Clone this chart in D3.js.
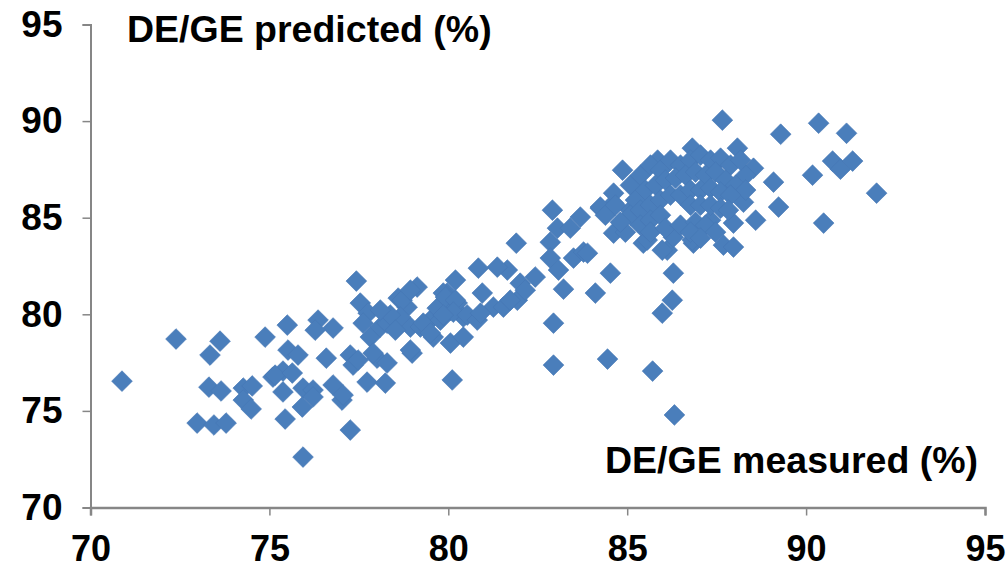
<!DOCTYPE html>
<html>
  <head>
    <meta charset="utf-8">
    <title>DE/GE predicted vs measured</title>
    <script src="https://d3js.org/d3.v7.min.js"></script>
    <style>
      body { margin: 0; background: #fff; }
      text { font-family: "Liberation Sans", Arial, sans-serif; font-weight: bold; fill: #000; }
    </style>
  </head>
  <body>
    <script>

      // measured DE/GE (%) and predicted DE/GE (%)
      var measured = [
        70.88,72.39,73.62,73.34,73.31,73.65,72.98,73.45,73.79,74.27,74.52,74.27,74.49,74.88,75.10,75.38,75.50,75.52,75.38,75.44,
        76.36,76.78,76.28,75.80,76.59,77.26,77.34,77.48,78.01,78.29,78.99,80.11,75.16,75.64,75.94,76.22,76.22,75.92,76.78,77.03,
        77.06,77.73,78.24,77.26,75.94,
        77.43,77.54,77.76,77.62,77.82,78.10,78.29,78.60,79.13,78.85,78.94,79.22,79.50,79.97,80.20,80.25,80.06,79.69,79.58,80.06,
        80.42,78.71,78.94,79.86,78.66,79.30,79.50,80.42,78.94,77.90,78.38,78.52,78.10,79.78,
        82.91,83.69,84.25,84.62,85.09,84.62,84.95,83.05,83.41,82.85,81.90,82.85,83.08,83.50,83.78,84.53,83.22,84.11,82.43,82.01,
        81.93,81.65,81.37,80.84,80.95,81.26,81.54,81.73,79.92,80.20,80.14,80.53,80.81,80.90,79.86,82.94,82.94,84.45,82.15,
        83.89,86.29,86.26,85.98,85.71,86.32,86.85,87.69,85.45,86.12,
        87.66,89.29,86.82,88.08,84.87,85.85,88.53,89.09,89.23,88.25,88.59,87.97,87.97,86.82,86.29,85.98,85.56,84.25,84.62,88.31,87.33,
        90.35,91.13,90.74,90.96,91.30,90.18,91.97,90.49,
        85.09,85.37,85.65,85.93,86.21,86.49,86.77,87.05,87.33,87.61,87.89,88.17,
        85.23,85.51,85.79,86.07,86.35,86.63,86.91,87.19,87.47,87.75,88.03,88.31,
        85.09,85.37,85.65,85.93,86.21,86.49,86.77,87.05,87.33,87.61,87.89,
        85.37,85.65,85.93,86.77,87.05,87.33,87.61,87.83,
        85.65,86.07,86.49,86.91,87.19,86.77,87.05,87.47,
        84.39,84.67,84.81
      ];

      var predicted = [
        76.54,78.72,78.61,77.89,76.23,76.03,74.37,74.27,74.37,76.18,76.29,75.56,75.10,78.82,76.75,77.06,79.44,78.15,75.98,74.58,
        79.70,79.29,79.18,77.89,77.73,77.89,77.37,77.63,77.73,77.48,77.99,76.60,76.85,76.96,76.18,76.08,75.72,75.20,76.34,75.56,
        75.82,76.49,76.44,74.01,72.61,
        81.72,80.58,80.06,79.54,78.82,79.34,79.54,80.84,81.41,80.37,79.34,79.34,79.70,81.10,81.77,80.58,80.22,80.32,78.82,78.51,
        78.82,80.73,81.25,81.10,79.86,79.54,79.03,79.86,78.15,77.99,79.96,79.18,80.22,79.70,
        85.39,85.03,85.49,85.75,85.39,84.20,84.25,84.46,84.46,83.73,83.68,82.91,82.29,82.91,83.22,82.13,81.30,81.10,81.93,81.61,
        80.73,82.29,82.44,82.39,81.10,80.37,80.37,80.73,80.89,80.73,80.11,79.96,79.70,80.06,79.96,79.54,77.37,77.68,81.25,
        83.16,82.13,80.73,80.06,77.06,74.79,83.68,83.58,83.68,83.32,
        90.05,89.32,88.60,88.60,87.46,87.98,87.56,86.84,85.55,85.80,84.87,84.72,83.48,83.84,83.99,83.32,83.84,85.55,86.27,87.20,84.87,
        89.89,89.37,87.93,87.51,87.93,87.20,86.27,84.72,
        86.68,87.20,87.72,87.46,87.98,87.72,87.98,88.24,87.98,88.08,87.72,87.98,
        85.91,86.43,86.68,86.94,87.05,87.20,87.36,87.20,87.36,86.94,86.68,86.43,
        85.13,85.39,85.65,85.91,86.17,86.17,86.43,86.43,86.53,86.32,86.17,
        84.61,84.87,85.13,85.65,85.65,85.65,85.49,85.39,
        84.25,84.46,84.61,84.77,84.61,84.25,83.94,84.25,
        85.13,85.65,84.77
      ];

      var tickValues = [70, 75, 80, 85, 90, 95];

      var points = measured.map(function(d, i) { return { x: d, y: predicted[i] }; });

      var svg = d3.select("body")
                  .append("svg")
                  .attr("width", 1006)
                  .attr("height", 572);

      var x = d3.scaleLinear().domain([70, 95]).range([90.5, 985]);
      var y = d3.scaleLinear().domain([70, 95]).range([507.5, 24.5]);

      // x axis
      var xAxis = svg.append("g")
                     .attr("transform", "translate(0," + y(70) + ")")
                     .call(d3.axisBottom(x).tickValues(tickValues).tickSize(8).tickPadding(20));
      xAxis.select(".domain").attr("stroke", "#868686").attr("stroke-width", 2.5);
      xAxis.selectAll(".tick line").attr("stroke", "#868686").attr("stroke-width", 1.5);
      xAxis.selectAll(".tick text")
           .attr("font-size", 36)
           .attr("font-family", "'Liberation Sans', Arial, sans-serif")
           .attr("font-weight", "bold")
           .attr("fill", "#000");

      // y axis
      var yAxis = svg.append("g")
                     .attr("transform", "translate(" + x(70) + ",0)")
                     .call(d3.axisLeft(y).tickValues(tickValues).tickSize(8).tickPadding(20));
      yAxis.select(".domain").attr("stroke", "#868686").attr("stroke-width", 2);
      yAxis.selectAll(".tick line").attr("stroke", "#868686").attr("stroke-width", 1.5);
      yAxis.selectAll(".tick text")
           .attr("font-size", 37)
           .attr("font-family", "'Liberation Sans', Arial, sans-serif")
           .attr("font-weight", "bold")
           .attr("fill", "#000");

      // diamonds
      var diamond = d3.symbol().type(d3.symbolSquare).size(215);

      svg.append("g")
         .selectAll("path")
         .data(points)
         .enter()
         .append("path")
         .attr("d", diamond)
         .attr("transform", function(d) { return "translate(" + x(d.x) + "," + y(d.y) + ") rotate(45)"; })
         .attr("fill", "#4a7ebb")
         .attr("stroke", "#4677b4")
         .attr("stroke-width", 0.6);

      svg.append("text")
         .attr("x", 127)
         .attr("y", 42)
         .attr("font-size", 37.5)
         .text("DE/GE predicted (%)");

      svg.append("text")
         .attr("x", 605)
         .attr("y", 473)
         .attr("font-size", 37.5)
         .text("DE/GE measured (%)");

    </script>
  </body>
</html>
